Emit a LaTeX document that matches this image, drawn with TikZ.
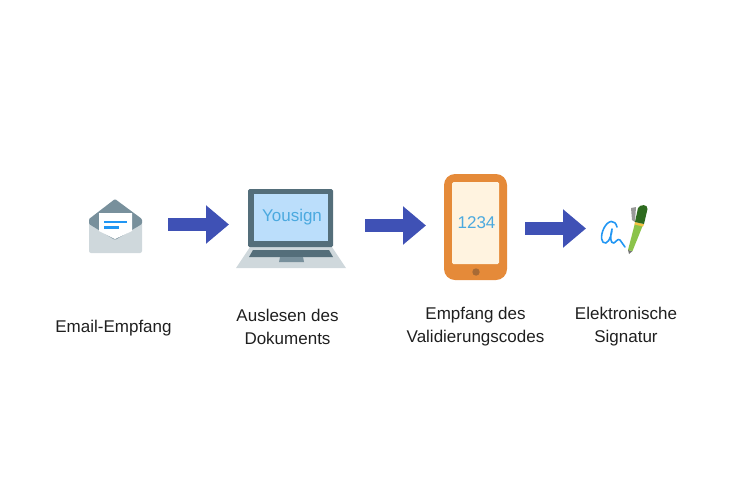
\documentclass[tikz,border=0pt]{standalone}
\usepackage{fontspec}
\setmainfont{Liberation Sans}
\usetikzlibrary{arrows.meta}
\definecolor{arrowblue}{HTML}{3F51B5}
\definecolor{envbody}{HTML}{CFD8DC}
\definecolor{slate}{HTML}{78909C}
\definecolor{darkslate}{HTML}{546E7A}
\definecolor{lapbase}{HTML}{CFD8DC}
\definecolor{scr}{HTML}{BBDEFB}
\definecolor{txtblue}{HTML}{4BA9DF}
\definecolor{msgblue}{HTML}{2196F3}
\definecolor{phoneor}{HTML}{E58A39}
\definecolor{phonescr}{HTML}{FFF3E0}
\definecolor{penbody}{HTML}{8BC34A}
\definecolor{pentop}{HTML}{2E6B1F}
\definecolor{penband}{HTML}{F5C242}
\definecolor{btn}{HTML}{A86A35}
\tikzset{
  x=1pt,y=-1pt,
  flow/.style={line width=13pt,draw=arrowblue,-{Triangle[length=23pt,width=37pt,fill=arrowblue]}},
  lab/.style={font=\fontsize{17}{23}\selectfont,text=black!88,align=center,inner sep=0pt},
  icontext/.style={inner sep=0pt,text=txtblue,font=\fontsize{17}{20}\selectfont}
}
\begin{document}
\begin{tikzpicture}
\useasboundingbox (0,0) rectangle (736,491);
% envelope
\fill[envbody,rounded corners=2pt] (89,222) -- (89,253) -- (142,253) -- (142,222) -- cycle;
\fill[slate,rounded corners=1pt] (89,219) -- (115,199) -- (142,219) -- (142,224) -- (115,240) -- (89,224) -- cycle;
\fill[white] (99,213) -- (132,213) -- (132,231) -- (115,239) -- (99,231) -- cycle;
\fill[msgblue] (104,220.5) rectangle (127,223);
\fill[msgblue] (104,225.5) rectangle (119,228.5);
% laptop
\fill[lapbase] (250,247) -- (332,247) -- (346,268) -- (236,268) -- cycle;
\fill[darkslate] (253,250) -- (329,250) -- (333,257) -- (249,257) -- cycle;
\fill[slate] (280,257) -- (303,257) -- (304,262) -- (279,262) -- cycle;
\fill[darkslate,rounded corners=1.5pt] (248,189) rectangle (333,247);
\fill[scr] (254,194) rectangle (328,241);
\node[icontext] (yousign) at (292,217) {Yousign};
% phone
\fill[phoneor,rounded corners=11pt] (444,174) rectangle (507,280);
\fill[phonescr,rounded corners=1.5pt] (452,182) rectangle (499,264);
\fill[btn] (476,272) circle (3.7);
\node[icontext] (code) at (476.5,223) {1234};
% signature
\draw[msgblue,line width=1.6pt,line cap=round,line join=round]
  (617,227) .. controls (615,219) and (608,220) .. (604,228)
  .. controls (600,236) and (601,244) .. (606,243)
  .. controls (610,241) and (612,233) .. (612,229)
  .. controls (610,236) and (610,244) .. (614,243)
  .. controls (617,242) and (617,238) .. (620,240)
  .. controls (622,243) and (623,243) .. (625,247);
% pen
\fill[black!55] (629,254) -- (628,250) -- (632.5,251) -- cycle;
\fill[black!40] (631,208) -- (636,207) -- (635,222) -- (632,220) -- cycle;
\fill[penbody] (628,250) -- (635,223) -- (643,225) -- (632.5,251) -- cycle;
\fill[penband] (635,222) -- (644,224) -- (643,226.5) -- (634.5,224.5) -- cycle;
\fill[pentop] (635,222) -- (638,208) .. controls (640,204) and (648,204) .. (647.5,209) -- (644,224) -- cycle;
% connectors
\coordinate (a1s) at (168,224.5); \coordinate (a1e) at (229,224.5);
\coordinate (a2s) at (365,225.5); \coordinate (a2e) at (426,225.5);
\coordinate (a3s) at (525,228.5); \coordinate (a3e) at (586,228.5);
\draw[flow] (a1s) -- (a1e);
\draw[flow] (a2s) -- (a2e);
\draw[flow] (a3s) -- (a3e);
% labels
\node[lab] (l1) at (113.5,328) {Email-Empfang};
\node[lab] (l2) at (287.5,327) {Auslesen des\\Dokuments};
\node[lab] (l3) at (475.5,327) {Empfang des\\Validierungscodes};
\node[lab] (l4) at (626,327) {Elektronische\\Signatur};
\end{tikzpicture}
\end{document}
